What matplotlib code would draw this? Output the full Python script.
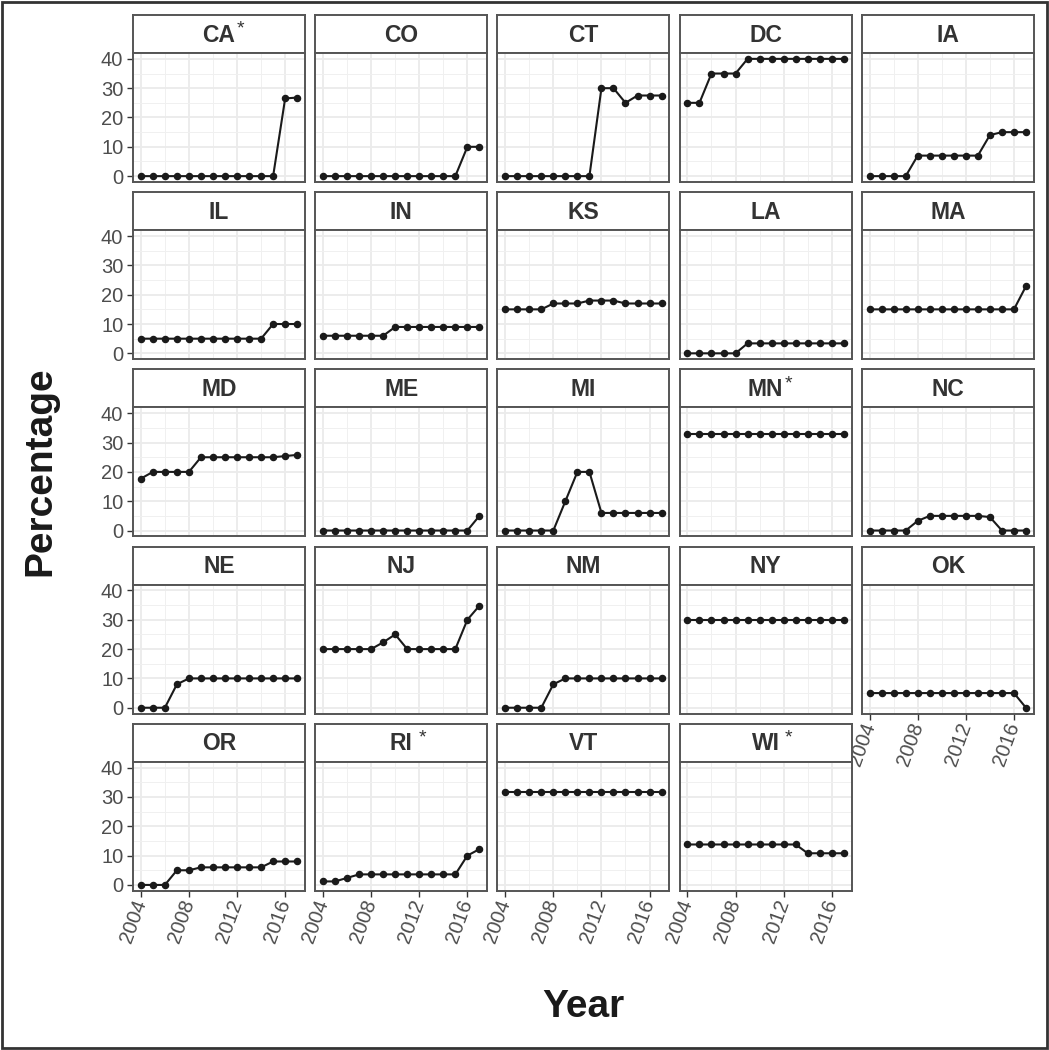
import numpy as np
import matplotlib.pyplot as plt
from matplotlib.patches import Rectangle

plt.rcParams['font.family'] = ['Liberation Sans', 'DejaVu Sans']

years = [2004, 2005, 2006, 2007, 2008, 2009, 2010, 2011, 2012, 2013, 2014, 2015, 2016, 2017]

# percentage per state, 2004..2017
ca = [0, 0, 0, 0, 0, 0, 0, 0, 0, 0, 0, 0, 26.5, 26.8]
co = [0, 0, 0, 0, 0, 0, 0, 0, 0, 0, 0, 0, 10, 10]
ct = [0, 0, 0, 0, 0, 0, 0, 0, 30, 30, 25, 27.5, 27.5, 27.5]
dc = [25, 25, 35, 35, 35, 40, 40, 40, 40, 40, 40, 40, 40, 40]
ia = [0, 0, 0, 0, 7, 7, 7, 7, 7, 7, 14, 15, 15, 15]
il = [5, 5, 5, 5, 5, 5, 5, 5, 5, 5, 5, 10, 10, 10]
ind = [6, 6, 6, 6, 6, 6, 9, 9, 9, 9, 9, 9, 9, 9]
ks = [15, 15, 15, 15, 17, 17, 17, 18, 18, 18, 17, 17, 17, 17]
la = [0, 0, 0, 0, 0, 3.4, 3.4, 3.4, 3.4, 3.4, 3.4, 3.4, 3.4, 3.4]
ma = [15, 15, 15, 15, 15, 15, 15, 15, 15, 15, 15, 15, 15, 22.9]
md = [17.7, 20, 20, 20, 20, 25, 25, 25, 25, 25, 25, 25, 25.4, 25.8]
me = [0, 0, 0, 0, 0, 0, 0, 0, 0, 0, 0, 0, 0, 5]
mi = [0, 0, 0, 0, 0, 10, 20, 20, 6, 6, 6, 6, 6, 6]
mn = [33, 33, 33, 33, 33, 33, 33, 33, 33, 33, 33, 33, 33, 33]
nc = [0, 0, 0, 0, 3.3, 5, 5, 5, 5, 5, 4.6, 0, 0, 0]
ne = [0, 0, 0, 8, 10, 10, 10, 10, 10, 10, 10, 10, 10, 10]
nj = [20, 20, 20, 20, 20, 22.3, 25, 20, 20, 20, 20, 20, 30, 34.8]
nm = [0, 0, 0, 0, 8, 10, 10, 10, 10, 10, 10, 10, 10, 10]
ny = [30, 30, 30, 30, 30, 30, 30, 30, 30, 30, 30, 30, 30, 30]
ok = [5, 5, 5, 5, 5, 5, 5, 5, 5, 5, 5, 5, 5, 0]
orr = [0, 0, 0, 5, 5, 6, 6, 6, 6, 6, 6, 8, 8, 8]
ri = [1.2, 1.2, 2.4, 3.6, 3.6, 3.6, 3.6, 3.6, 3.6, 3.6, 3.6, 3.6, 10, 12.2]
vt = [31.7, 31.7, 31.7, 31.7, 31.7, 31.7, 31.7, 31.7, 31.7, 31.7, 31.7, 31.7, 31.7, 31.7]
wi = [13.8, 13.8, 13.8, 13.8, 13.8, 13.8, 13.8, 13.8, 13.8, 13.8, 10.8, 10.8, 10.8, 10.8]

states = ['CA', 'CO', 'CT', 'DC', 'IA', 'IL', 'IN', 'KS', 'LA', 'MA', 'MD', 'ME',
          'MI', 'MN', 'NC', 'NE', 'NJ', 'NM', 'NY', 'OK', 'OR', 'RI', 'VT', 'WI']
series = [ca, co, ct, dc, ia, il, ind, ks, la, ma, md, me,
          mi, mn, nc, ne, nj, nm, ny, ok, orr, ri, vt, wi]
starred = {'CA': 1, 'MN': 1, 'RI': 4, 'WI': 4}   # value = gap before the star

W, H = 1049, 1050
fig = plt.figure(figsize=(W / 100, H / 100), dpi=100)


def px_axes(x, y, w, h):
    return fig.add_axes([x / W, 1 - (y + h) / H, w / W, h / H])


border = '#555555'
for i, (name, vals) in enumerate(zip(states, series)):
    r, c = divmod(i, 5)
    x0 = 133 + c * 182.2
    top = 15 + r * 177.2

    strip = px_axes(x0, top, 172, 38)
    strip.set_xticks([])
    strip.set_yticks([])
    for s in strip.spines.values():
        s.set_color(border)
        s.set_linewidth(1.4)
    t = strip.text(0.5, 0.47, name, ha='center', va='center', fontsize=16.5,
                   fontweight='bold', color='#333333', transform=strip.transAxes)
    if name in starred:
        strip.annotate('*', xy=(1, 1), xycoords=t, xytext=(starred[name], 2),
                       textcoords='offset points', ha='left', va='top',
                       fontsize=14, color='#333333')

    ax = px_axes(x0, top + 38, 172, 129)
    ax.plot(years, vals, color='#1a1a1a', lw=1.5, marker='o', ms=4.4, zorder=3)
    ax.set_xlim(2003.35, 2017.65)
    ax.set_ylim(-2, 42)
    ax.set_xticks([2004, 2008, 2012, 2016])
    ax.set_xticks([2006, 2010, 2014], minor=True)
    ax.set_yticks([0, 10, 20, 30, 40])
    ax.set_yticks([5, 15, 25, 35], minor=True)
    ax.set_axisbelow(True)
    ax.grid(which='major', color='#EBEBEB', lw=1.3)
    ax.grid(which='minor', color='#F0F0F0', lw=0.7)
    for s in ax.spines.values():
        s.set_color(border)
        s.set_linewidth(1.4)
    ax.tick_params(which='minor', length=0)
    ax.tick_params(which='major', length=4, width=1, color='#333333',
                   labelsize=14.5, labelcolor='#4D4D4D', pad=3)

    if c != 0:
        ax.tick_params(axis='y', length=0, labelleft=False)
    bottom = r == 4 or (r == 3 and c == 4)
    if bottom:
        for lab in ax.get_xticklabels():
            lab.set_rotation(70)
            lab.set_ha('right')
            lab.set_va('center')
            lab.set_rotation_mode('anchor')
    else:
        ax.tick_params(axis='x', length=0, labelbottom=False)

fig.text(40 / W, 1 - 471 / H, 'Percentage', rotation=90, fontsize=28,
         fontweight='bold', ha='center', va='center', color='#1a1a1a')
fig.text(583 / W, 1 - 1007 / H, 'Year', fontsize=28, fontweight='bold',
         ha='center', va='center', color='#1a1a1a')

fig.patches.append(Rectangle((0.002, 0.002), 0.996, 0.996, transform=fig.transFigure,
                             fill=False, ec='#333333', lw=2))

fig.savefig('out.png', dpi=100)
